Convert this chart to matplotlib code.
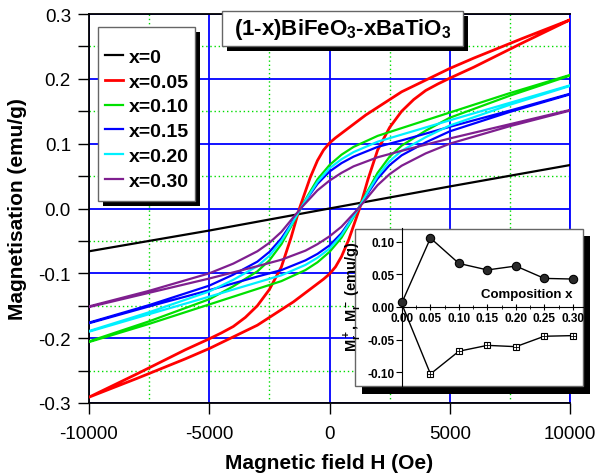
import matplotlib
matplotlib.use('Agg')
import matplotlib.pyplot as plt
from matplotlib.patches import Rectangle
from matplotlib.ticker import MultipleLocator, FormatStrFormatter, FixedLocator

plt.rcParams['font.family'] = ['Liberation Sans', 'DejaVu Sans']
plt.rcParams['mathtext.fontset'] = 'custom'
plt.rcParams['mathtext.rm'] = 'Liberation Sans'
plt.rcParams['mathtext.bf'] = 'Liberation Sans:bold'
plt.rcParams['mathtext.it'] = 'Liberation Sans:italic'
plt.rcParams['axes.unicode_minus'] = False

# ---------------- data ----------------
labels = ['x=0', 'x=0.05', 'x=0.10', 'x=0.15', 'x=0.20', 'x=0.30']
colors = ['#000000', '#ff0000', '#00e000', '#0000ff', '#00f0ff', '#7f1f8f']

# x = 0 : practically linear
H_x0 = [-10000, -5000, 0, 5000, 10000]
M_x0 = [-0.066, -0.034, 0.0, 0.034, 0.067]

# x = 0.05 (red) : descending branch then ascending branch
H_red_dn = [10000, 8000, 6000, 5000, 4500, 4000, 3500, 3000, 2500, 2000, 1500, 1000, 500, 250, 0,
            -250, -500, -800, -1250, -1600, -2000, -2500, -3000, -3500, -4000, -4500, -5000,
            -6000, -8000, -10000]
M_red_dn = [0.291, 0.262, 0.232, 0.216, 0.207, 0.198, 0.189, 0.180, 0.168, 0.156, 0.144, 0.130,
            0.116, 0.109, 0.101, 0.090, 0.074, 0.048, 0.0, -0.045, -0.090, -0.125, -0.150,
            -0.168, -0.182, -0.192, -0.201, -0.218, -0.255, -0.291]
H_red_up = [-10000, -8000, -6000, -5000, -4500, -4000, -3500, -3000, -2500, -2000, -1500, -1000,
            -500, -250, 0, 250, 500, 800, 1250, 1600, 2000, 2500, 3000, 3500, 4000, 4500, 5000,
            6000, 8000, 10000]
M_red_up = [-0.291, -0.262, -0.232, -0.216, -0.207, -0.198, -0.189, -0.180, -0.168, -0.156,
            -0.144, -0.130, -0.116, -0.109, -0.101, -0.090, -0.074, -0.048, 0.0, 0.045, 0.090,
            0.125, 0.150, 0.168, 0.182, 0.192, 0.201, 0.218, 0.255, 0.291]

# common field grid for the other loops
H_dn = [10000, 7500, 5000, 3000, 2000, 1000, 500, 0, -500, -900, -1200, -1600,
        -2000, -2500, -3000, -4000, -5000, -7500, -10000]
H_up = [-10000, -7500, -5000, -3000, -2000, -1000, -500, 0, 500, 900, 1200, 1600,
        2000, 2500, 3000, 4000, 5000, 7500, 10000]

# x = 0.10 (green)
M_g_dn = [0.206, 0.178, 0.148, 0.124, 0.112, 0.095, 0.083, 0.067, 0.045, 0.020, 0.0, -0.028,
          -0.055, -0.080, -0.097, -0.120, -0.140, -0.174, -0.205]
M_g_up = [-0.206, -0.178, -0.148, -0.124, -0.112, -0.095, -0.083, -0.067, -0.045, -0.020, 0.0, 0.028,
          0.055, 0.080, 0.097, 0.120, 0.140, 0.174, 0.205]
# x = 0.15 (blue)
M_b_dn = [0.177, 0.151, 0.126, 0.105, 0.095, 0.080, 0.070, 0.057, 0.038, 0.017, 0.0, -0.024,
          -0.046, -0.067, -0.082, -0.102, -0.119, -0.149, -0.176]
M_b_up = [-0.177, -0.151, -0.126, -0.105, -0.095, -0.080, -0.070, -0.057, -0.038, -0.017, 0.0, 0.024,
          0.046, 0.067, 0.082, 0.102, 0.119, 0.149, 0.176]
# x = 0.20 (cyan)
M_c_dn = [0.190, 0.163, 0.136, 0.114, 0.103, 0.087, 0.076, 0.062, 0.041, 0.018, 0.0, -0.026,
          -0.050, -0.073, -0.089, -0.110, -0.128, -0.160, -0.189]
M_c_up = [-0.190, -0.163, -0.136, -0.114, -0.103, -0.087, -0.076, -0.062, -0.041, -0.018, 0.0, 0.026,
          0.050, 0.073, 0.089, 0.110, 0.128, 0.160, 0.189]
# x = 0.30 (purple)
M_p_dn = [0.152, 0.130, 0.108, 0.089, 0.079, 0.065, 0.055, 0.043, 0.028, 0.012, 0.0, -0.018,
          -0.036, -0.053, -0.066, -0.085, -0.100, -0.127, -0.151]
M_p_up = [-0.152, -0.130, -0.108, -0.089, -0.079, -0.065, -0.055, -0.043, -0.028, -0.012, 0.0, 0.018,
          0.036, 0.053, 0.066, 0.085, 0.100, 0.127, 0.151]

# inset : remanent magnetisation vs composition
comp = [0.00, 0.05, 0.10, 0.15, 0.20, 0.25, 0.30]
Mr_pos = [0.007, 0.106, 0.067, 0.057, 0.063, 0.044, 0.043]
Mr_neg = [0.004, -0.103, -0.068, -0.059, -0.061, -0.045, -0.044]

xticks = [-10000, -5000, 0, 5000, 10000]
yticks = [-0.3, -0.2, -0.1, 0.0, 0.1, 0.2, 0.3]

# ---------------- figure ----------------
W, Hh = 600, 477
fig = plt.figure(figsize=(W / 100, Hh / 100), dpi=100)


def fr(x0, y0, x1, y1):
    """pixel box (from top-left) -> figure fraction rect args"""
    return (x0 / W, 1 - y1 / Hh), (x1 - x0) / W, (y1 - y0) / Hh


ax = fig.add_axes([89 / W, 1 - 404 / Hh, 481 / W, 389 / Hh])

loops = [
    (H_x0, M_x0),
    (H_red_dn + H_red_up, M_red_dn + M_red_up),
    (H_dn + H_up, M_g_dn + M_g_up),
    (H_dn + H_up, M_b_dn + M_b_up),
    (H_dn + H_up, M_c_dn + M_c_up),
    (H_dn + H_up, M_p_dn + M_p_up),
]
lws = [1.6, 2.0, 1.6, 1.6, 1.6, 1.6]
handles = []
for (hx, my), c, lab, lw in zip(loops, colors, labels, lws):
    ln, = ax.plot(hx, my, color=c, lw=lw, label=lab, zorder=3, solid_joinstyle='round')
    handles.append(ln)

ax.set_xlim(-10000, 10000)
ax.set_ylim(-0.3, 0.3)
ax.xaxis.set_major_locator(FixedLocator(xticks))
ax.yaxis.set_major_locator(FixedLocator(yticks))
ax.xaxis.set_minor_locator(MultipleLocator(2500))
ax.yaxis.set_minor_locator(MultipleLocator(0.05))
ax.yaxis.set_major_formatter(FormatStrFormatter('%.1f'))
ax.set_axisbelow(True)
ax.grid(which='major', color='#0000ff', lw=1.3)
ax.grid(which='minor', color='#00dd00', ls=(0, (1, 2)), lw=1.0)
ax.tick_params(which='major', direction='out', length=8, width=1, labelsize=13.5)
ax.tick_params(axis='x', which='major', pad=8)
ax.tick_params(axis='y', which='major', pad=5)
ax.tick_params(axis='x', which='minor', length=0)
ax.tick_params(axis='y', which='minor', direction='out', length=8, width=1)
for s in ['left', 'bottom', 'top']:
    ax.spines[s].set_color('black')
    ax.spines[s].set_linewidth(1.3)
ax.spines['right'].set_color('#0000ff')
ax.spines['right'].set_linewidth(1.3)

ax.set_xlabel('Magnetic field H (Oe)', fontsize=15, fontweight='bold', labelpad=8)
ax.set_ylabel('Magnetisation (emu/g)', fontsize=15, fontweight='bold', labelpad=8)

# legend with shadowed frame
(x, y), w, h = fr(103, 33, 200, 207)
ax.add_patch(Rectangle((x, y), w, h, transform=fig.transFigure, facecolor='black',
                       edgecolor='none', zorder=4.5, clip_on=False))
(x, y), w, h = fr(98, 28, 195, 202)
ax.add_patch(Rectangle((x, y), w, h, transform=fig.transFigure, facecolor='white',
                       edgecolor='#666666', lw=1, zorder=4.6, clip_on=False))
ax.legend(handles=handles, loc='center left', bbox_to_anchor=(105 / W, 1 - 120 / Hh),
          bbox_transform=fig.transFigure, frameon=False,
          prop={'weight': 'bold', 'size': 14}, handlelength=0.95, handletextpad=0.3,
          labelspacing=0.37, borderpad=0, borderaxespad=0)

# title box
(x, y), w, h = fr(227, 17, 468, 52)
ax.add_patch(Rectangle((x, y), w, h, transform=fig.transFigure, facecolor='black',
                       edgecolor='none', zorder=6, clip_on=False))
(x, y), w, h = fr(222, 12, 463, 47)
ax.add_patch(Rectangle((x, y), w, h, transform=fig.transFigure, facecolor='white',
                       edgecolor='#666666', lw=1, zorder=6.1, clip_on=False))
ax.text(342.5 / W, 1 - 30 / Hh, r'(1-x)BiFeO$_\mathbf{3}$-xBaTiO$_\mathbf{3}$',
        transform=fig.transFigure, ha='center', va='center', fontsize=16,
        fontweight='bold', zorder=7, clip_on=False)

# inset box
(x, y), w, h = fr(362, 237, 590, 395)
ax.add_patch(Rectangle((x, y), w, h, transform=fig.transFigure, facecolor='black',
                       edgecolor='none', zorder=6, clip_on=False))
(x, y), w, h = fr(355, 230, 583, 387)
ax.add_patch(Rectangle((x, y), w, h, transform=fig.transFigure, facecolor='white',
                       edgecolor='#666666', lw=1, zorder=6.1, clip_on=False))

axi = fig.add_axes([402 / W, 1 - 387 / Hh, 181 / W, 158 / Hh])
axi.set_facecolor('none')
axi.plot(comp, Mr_neg, color='black', lw=1, marker='s', ms=4.5, mfc='white', mec='black',
         mew=0.8, markevery=slice(1, None), clip_on=False, zorder=3)
axi.plot(comp[1:], Mr_neg[1:], ls='none', marker='+', ms=4.5, color='black', mew=0.6,
         clip_on=False, zorder=4)
axi.plot(comp, Mr_pos, color='black', lw=1, marker='o', ms=6, mfc='#2a2a2a', mec='black',
         mew=0.8, clip_on=False, zorder=5)
axi.set_xlim(0, 0.318)
axi.set_ylim(-0.1215, 0.1215)
axi.spines['top'].set_visible(False)
axi.spines['right'].set_visible(False)
axi.spines['bottom'].set_position(('data', 0))
axi.xaxis.set_major_locator(MultipleLocator(0.05))
axi.xaxis.set_minor_locator(MultipleLocator(0.025))
axi.yaxis.set_major_locator(MultipleLocator(0.05))
axi.xaxis.set_major_formatter(FormatStrFormatter('%.2f'))
axi.yaxis.set_major_formatter(FormatStrFormatter('%.2f'))
axi.tick_params(axis='x', which='major', direction='inout', length=5, width=0.8, labelsize=8.5, pad=1)
axi.tick_params(axis='x', which='minor', direction='inout', length=3, width=0.6)
axi.tick_params(axis='y', which='major', direction='out', length=4, width=0.8, labelsize=8.5, pad=1)
for t in axi.get_xticklabels() + axi.get_yticklabels():
    t.set_fontweight('bold')
axi.set_ylabel(r'$\mathbf{M_r^+}$, $\mathbf{M_r^-}$ (emu/g)', fontsize=10.5, fontweight='bold')
axi.yaxis.set_label_coords(-0.21, 0.57)
axi.text(0.3, 0.02, 'Composition x', ha='right', va='center', fontsize=9.5, fontweight='bold')

fig.savefig('out.png', dpi=100)
